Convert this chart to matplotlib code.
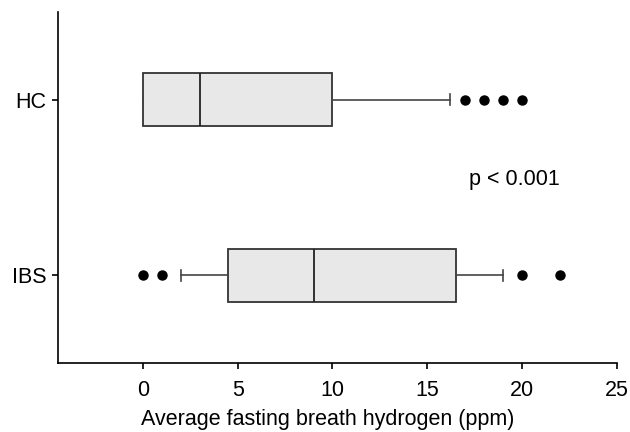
import matplotlib
matplotlib.use("Agg")
import matplotlib.pyplot as plt

# --- dados ---
grupos = ["IBS", "HC"]
q1 = [4.5, 0.0]
mediana = [9.0, 3.0]
q3 = [16.5, 10.0]
bigode_min = [2.0, 0.0]
bigode_max = [19.0, 16.2]
outliers = [[0, 1, 20, 22], [17, 18, 19, 20]]
xticks = [0, 5, 10, 15, 20, 25]

plt.rcParams["font.family"] = ["Liberation Sans", "DejaVu Sans"]
plt.rcParams["font.size"] = 15.5

stats = []
for i, g in enumerate(grupos):
    stats.append({
        "label": g,
        "q1": q1[i], "med": mediana[i], "q3": q3[i],
        "whislo": bigode_min[i], "whishi": bigode_max[i],
        "fliers": outliers[i],
    })

fig = plt.figure(figsize=(6.3, 4.32), dpi=100)
ax = fig.add_axes([0.0921, 0.1597, 0.8873, 0.8125])

ax.bxp(stats, positions=[1, 2], vert=False, widths=0.3, patch_artist=True,
       capwidths=0.06,
       boxprops=dict(facecolor="#e8e8e8", edgecolor="#333333", linewidth=1.3),
       medianprops=dict(color="#222222", linewidth=1.3),
       whiskerprops=dict(color="#444444", linewidth=1.2),
       capprops=dict(color="#444444", linewidth=1.2),
       flierprops=dict(marker="o", markerfacecolor="black", markeredgecolor="black",
                       markersize=6.5))

ax.set_xlim(-4.47, 25)
ax.set_ylim(0.5, 2.5)
ax.set_xticks(xticks)
ax.set_yticks([1, 2])
ax.set_yticklabels(grupos)
ax.spines["top"].set_visible(False)
ax.spines["right"].set_visible(False)
ax.spines["left"].set_linewidth(1.2)
ax.spines["bottom"].set_linewidth(1.2)
ax.tick_params(axis="y", length=4.5, width=1.2, pad=4)
ax.tick_params(axis="x", length=4.5, width=1.2, pad=8)

ax.set_xlabel("Average fasting breath hydrogen (ppm)")
ax.xaxis.set_label_coords(0.483, -0.13)
ax.text(19.6, 1.515, "p < 0.001", ha="center", va="baseline")

plt.savefig("out.png", dpi=100)
